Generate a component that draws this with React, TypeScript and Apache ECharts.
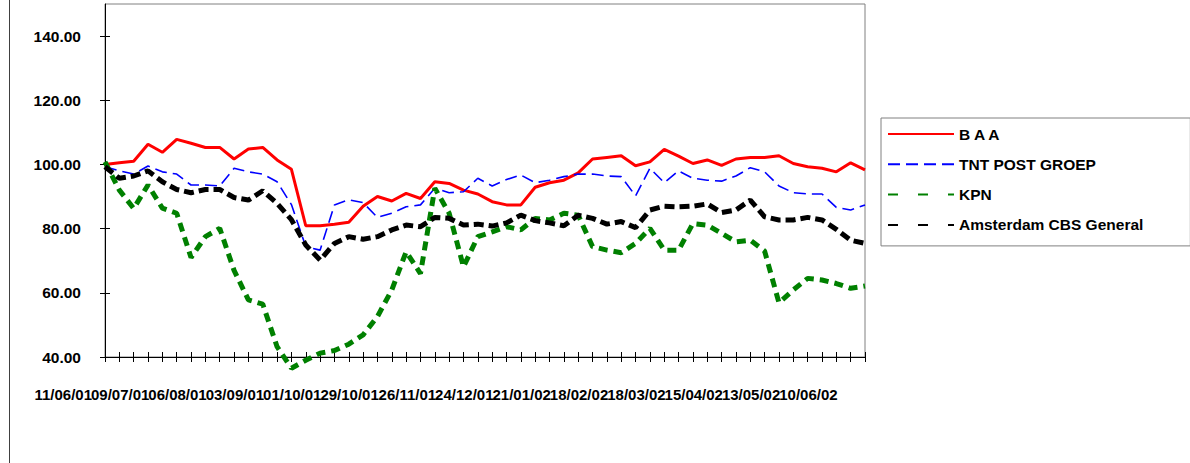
import React, { useEffect, useRef } from 'react';
import * as echarts from 'echarts';

const categories = [
  '11/06/01', '18/06/01', '25/06/01', '02/07/01', '09/07/01', '16/07/01', '23/07/01', '30/07/01',
  '06/08/01', '13/08/01', '20/08/01', '27/08/01', '03/09/01', '10/09/01', '17/09/01', '24/09/01',
  '01/10/01', '08/10/01', '15/10/01', '22/10/01', '29/10/01', '05/11/01', '12/11/01', '19/11/01',
  '26/11/01', '03/12/01', '10/12/01', '17/12/01', '24/12/01', '31/12/01', '07/01/02', '14/01/02',
  '21/01/02', '28/01/02', '04/02/02', '11/02/02', '18/02/02', '25/02/02', '04/03/02', '11/03/02',
  '18/03/02', '25/03/02', '01/04/02', '08/04/02', '15/04/02', '22/04/02', '29/04/02', '06/05/02',
  '13/05/02', '20/05/02', '27/05/02', '03/06/02', '10/06/02', '17/06/02',
];

const baa = [
  100, 100.5, 101, 106.3, 103.8, 107.8, 106.6, 105.3, 105.3, 101.7,
  104.8, 105.3, 101.4, 98.5, 80.9, 80.9, 81.4, 82, 87, 90,
  88.6, 91, 89.4, 94.6, 94.1, 92, 90.8, 88.4, 87.4, 87.4,
  92.9, 94.3, 95.1, 97.4, 101.7, 102.2, 102.7, 99.6, 100.8, 104.7,
  102.6, 100.3, 101.4, 99.7, 101.7, 102.2, 102.2, 102.7, 100.3, 99.3,
  98.8, 97.7, 100.5, 98.3,
];

const tnt = [
  99.3, 98, 97, 99.5, 97.7, 97, 93.6, 93.6, 93.3, 98.8,
  97.7, 97, 94.6, 87.5, 74.4, 73.3, 87.4, 89, 88.1, 83.5,
  84.8, 86.8, 87.4, 92.6, 91.2, 91.5, 95.7, 93.3, 95.3, 96.7,
  94.3, 95.1, 96.2, 97, 97, 96.4, 96.2, 90.2, 98.8, 94.3,
  98, 95.7, 95.1, 94.8, 96.4, 99, 97.7, 93.3, 91.2, 90.8,
  90.8, 86.6, 85.8, 87.4,
];

const kpn = [
  100.8, 92, 86.3, 93.6, 86.4, 84.8, 71, 77.5, 80.1, 67,
  57.8, 56.5, 43.2, 36.5, 39, 41.2, 42, 44, 46.9, 52.6,
  60.9, 72.8, 66, 92.6, 84.8, 68.1, 77.5, 79, 80.6, 79.6,
  83.2, 82.7, 84.8, 84.2, 74.4, 73.3, 72.5, 75.4, 80.1, 73.3,
  73.3, 81.6, 81.1, 78.5, 75.9, 76.4, 73, 56.9, 60.9, 64.5,
  64, 62.9, 61.4, 62.1,
];

const amsterdam = [
  99.3, 95.7, 96.4, 98, 94.6, 92.2, 91.2, 92.2, 92.2, 89.7,
  88.9, 91.8, 87.9, 82.8, 74.9, 70.2, 75.4, 77.5, 76.7, 77.5,
  79.6, 81.1, 80.6, 83.5, 83.2, 81.1, 81.4, 80.8, 81.8, 84.2,
  82.5, 81.8, 80.9, 84.2, 83.2, 81.4, 82.2, 80.3, 85.8, 87,
  86.8, 87, 87.7, 85, 85.8, 88.9, 83.7, 82.7, 82.7, 83.5,
  82.7, 79.8, 76.4, 75.4,
];

const yTicks = [40, 60, 80, 100, 120, 140];
const seriesNames = ['B A A', 'TNT POST GROEP', 'KPN', 'Amsterdam CBS General'];
const labelEvery = 4;

export default function App() {
  const ref = useRef<HTMLDivElement>(null);

  useEffect(() => {
    if (!ref.current) return;
    const chart = echarts.init(ref.current, null, { renderer: 'svg' });
    const font = "'Liberation Sans', Arial, sans-serif";

    const xBase = {
      type: 'category',
      data: categories,
      boundaryGap: false,
      position: 'bottom',
    };
    const yBase = {
      type: 'value',
      min: 40,
      max: 150,
      interval: 20,
      position: 'left',
      splitLine: { show: false },
    };

    chart.setOption({
      animation: false,
      backgroundColor: '#ffffff',
      grid: {
        left: 105,
        right: 325,
        top: 4,
        bottom: 106,
        show: true,
        borderColor: '#808080',
        borderWidth: 1,
      },
      xAxis: [
        {
          ...xBase,
          axisLine: { onZero: false, lineStyle: { color: '#000', width: 1 } },
          axisTick: { show: true, interval: 0, length: 5, inside: false, lineStyle: { color: '#000' } },
          axisLabel: {
            interval: 0,
            hideOverlap: false,
            formatter: (v: string, idx: number) => (idx % labelEvery === 0 ? v : ''),
            align: 'right',
            padding: [0, 13, 0, 0],
            margin: 30,
            fontFamily: font,
            fontSize: 15,
            fontWeight: 'bold',
            color: '#000',
          },
          splitLine: { show: false },
        },
        {
          ...xBase,
          axisLine: { show: false, onZero: false },
          axisTick: { show: true, interval: 0, length: 5, inside: true, lineStyle: { color: '#000' } },
          axisLabel: { show: false },
          splitLine: { show: false },
        },
      ],
      yAxis: [
        {
          ...yBase,
          axisLine: { show: true, onZero: false, lineStyle: { color: '#000', width: 1 } },
          axisTick: { show: true, length: 5, inside: false, customValues: yTicks, lineStyle: { color: '#000' } },
          axisLabel: {
            customValues: yTicks,
            formatter: (v: number) => v.toFixed(2),
            margin: 24,
            fontFamily: font,
            fontSize: 15.5,
            fontWeight: 'bold',
            color: '#000',
          },
        },
        {
          ...yBase,
          axisLine: { show: false, onZero: false },
          axisTick: { show: true, length: 5, inside: true, customValues: yTicks, lineStyle: { color: '#000' } },
          axisLabel: { show: false },
        },
      ],
      legend: {
        orient: 'vertical',
        left: 881,
        top: 118,
        itemWidth: 66,
        itemHeight: 16,
        itemGap: 14.3,
        padding: [8, 47, 13, 6],
        borderColor: '#808080',
        borderWidth: 1,
        backgroundColor: '#ffffff',
        selectedMode: false,
        itemStyle: { opacity: 0, borderWidth: 0 },
        textStyle: {
          fontFamily: font,
          fontSize: 15.5,
          fontWeight: 'bold',
          color: '#000',
          lineHeight: 16,
        },
        data: [
          { name: seriesNames[0] },
          { name: seriesNames[1], lineStyle: { type: [12, 6] } },
          { name: seriesNames[2], lineStyle: { type: [10, 20] } },
          { name: seriesNames[3], lineStyle: { type: [10, 20] } },
        ],
      },
      graphic: [
        {
          type: 'line',
          shape: { x1: 9.5, y1: 0, x2: 9.5, y2: 463 },
          style: { stroke: '#404040', lineWidth: 1 },
          silent: true,
        },
      ],
      series: [
        {
          name: seriesNames[0],
          type: 'line',
          data: baa,
          symbol: 'none',
          clip: false,
          color: '#ff0000',
          lineStyle: { color: '#ff0000', width: 3, type: 'solid' },
        },
        {
          name: seriesNames[1],
          type: 'line',
          data: tnt,
          symbol: 'none',
          clip: false,
          color: '#0000ff',
          lineStyle: { color: '#0000ff', width: 1.6, type: [12, 6] },
        },
        {
          name: seriesNames[2],
          type: 'line',
          data: kpn,
          symbol: 'none',
          clip: false,
          color: '#008000',
          lineStyle: { color: '#008000', width: 5, type: [9, 6] },
        },
        {
          name: seriesNames[3],
          type: 'line',
          data: amsterdam,
          symbol: 'none',
          clip: false,
          color: '#000000',
          lineStyle: { color: '#000000', width: 5, type: [10, 5] },
        },
      ],
    });

    return () => chart.dispose();
  }, []);

  return (
    <div
      ref={ref}
      style={{ position: 'absolute', left: 0, top: 0, width: 1190, height: 463 }}
    />
  );
}
